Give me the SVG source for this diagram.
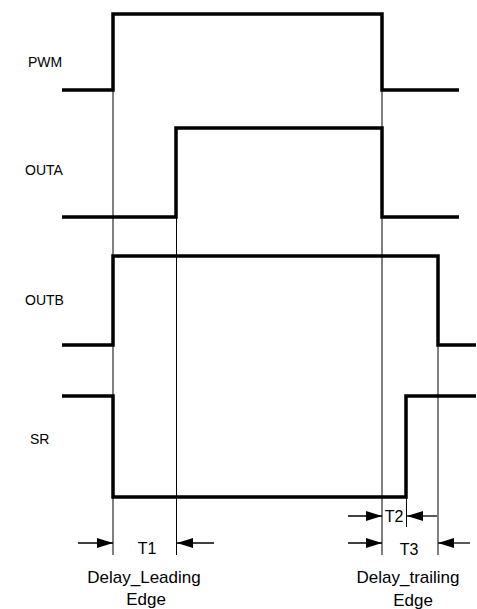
<svg xmlns="http://www.w3.org/2000/svg" width="477" height="609" viewBox="0 0 477 609">
<defs>
<marker id="ah" markerWidth="16" markerHeight="10" refX="16" refY="5" orient="auto" markerUnits="userSpaceOnUse">
<path d="M0,0 L16,5 L0,10 Z" fill="#000"/>
</marker>
<style>
.sig{fill:none;stroke:#000;stroke-width:3.5;stroke-linejoin:miter;stroke-linecap:butt}
.guide{fill:none;stroke:#000;stroke-width:1}
.arr{fill:none;stroke:#000;stroke-width:1.3;marker-end:url(#ah)}
text{font-family:"Liberation Sans",Arial,sans-serif;font-size:14px;fill:#000}
.mid{text-anchor:middle}
.t{font-size:16px}
.big{font-size:17px}
</style>
</defs>
<rect width="477" height="609" fill="#fff"/>
<g id="labels">
<text x="28" y="67">PWM</text>
<text x="25" y="175">OUTA</text>
<text x="25" y="305">OUTB</text>
<text x="30" y="444">SR</text>
</g>
<g id="connectors">
<line class="guide" x1="113" y1="90" x2="113" y2="555"/>
<line class="guide" x1="176.5" y1="217" x2="176.5" y2="555"/>
<line class="guide" x1="382" y1="90" x2="382" y2="555"/>
<line class="guide" x1="438" y1="345" x2="438" y2="555"/>
<line class="guide" x1="406.5" y1="497" x2="406.5" y2="527"/>
<line class="arr" x1="78" y1="543" x2="113" y2="543"/>
<line class="arr" x1="214" y1="543" x2="177" y2="543"/>
<line class="arr" x1="348" y1="516" x2="382" y2="516"/>
<line class="arr" x1="437" y1="516" x2="407" y2="516"/>
<line class="arr" x1="348" y1="543" x2="382" y2="543"/>
<line class="arr" x1="470" y1="543" x2="438" y2="543"/>
</g>
<g id="PWM"><polyline class="sig" points="62,90 113,90 113,14 382,14 382,90 459,90"/></g>
<g id="OUTA"><polyline class="sig" points="62,217 176,217 176,128 382,128 382,217 459,217"/></g>
<g id="OUTB"><polyline class="sig" points="62,345 113,345 113,256 438,256 438,345 476,345"/></g>
<g id="SR"><polyline class="sig" points="62,396 113,396 113,497 406,497 406,396 476,396"/></g>
<g id="annotations">
<text class="mid t" x="147" y="554">T1</text>
<text class="mid big" x="144" y="583">Delay_Leading</text>
<text class="mid big" x="146" y="605">Edge</text>
<text class="mid t" x="394" y="522">T2</text>
<text class="mid t" x="409" y="555">T3</text>
<text class="mid big" x="408" y="583">Delay_trailing</text>
<text class="mid big" x="413" y="606">Edge</text>
</g>
</svg>
